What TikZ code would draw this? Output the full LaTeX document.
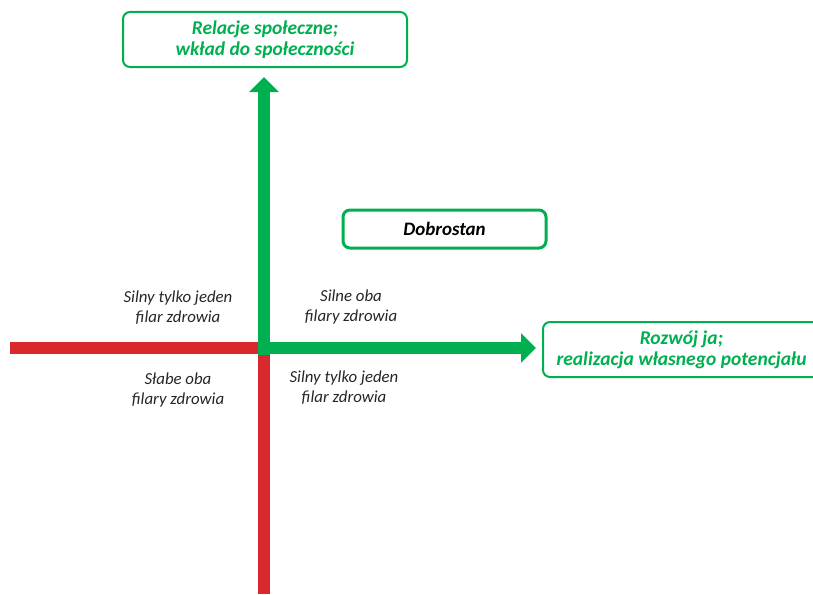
\documentclass[tikz,border=0pt]{standalone}
\usepackage{fontspec}
\setmainfont{Carlito}
\usetikzlibrary{arrows.meta}
\definecolor{axgreen}{RGB}{0,176,80}
\definecolor{axred}{RGB}{218,41,45}
\begin{document}
\begin{tikzpicture}[x=1pt,y=-1pt,
  goalbox/.style={draw=axgreen,line width=2pt,rounded corners=7pt,fill=white,
    text=axgreen,font=\fontsize{19.5}{22.5}\selectfont\bfseries\itshape,align=center,
    minimum height=55pt,inner sep=0pt},
  quadlabel/.style={font=\fontsize{16.8}{20}\selectfont\itshape,align=center,text=black!85},
  redaxis/.style={draw=axred,line width=12.5pt},
  greenaxis/.style={draw=axgreen,line width=12.5pt,-{Triangle[length=15pt,width=29pt]}}]
\useasboundingbox (0,0) rectangle (813,594);
\clip (0,0) rectangle (813,594);

% axes
\coordinate (o) at (264,348);
\coordinate (oleft) at (257.5,348);
\coordinate (odown) at (264,354.5);
\coordinate (westend) at (10,348);
\coordinate (southend) at (264,594);
\coordinate (northtip) at (264,77);
\coordinate (easttip) at (536,348);
\draw[redaxis] (westend) -- (oleft);
\draw[redaxis] (odown) -- (southend);
\draw[greenaxis] (odown) -- (northtip);
\draw[greenaxis] (oleft) -- (easttip);

% boxes
\node[goalbox,minimum width=284pt] (social) at (265,39.5)
  {\raisebox{-2pt}{\shortstack{Relacje społeczne;\\[1pt]wkład do społeczności}}};
\node[goalbox,minimum width=277pt] (growth) at (681.5,349.5)
  {\raisebox{-2pt}{\shortstack{Rozwój ja;\\[1pt]realizacja własnego potencjału}}};
\node[goalbox,minimum width=203pt,minimum height=38pt,line width=3pt,text=black,
  font=\fontsize{19}{22}\selectfont\bfseries\itshape]
  (wellbeing) at (444.5,229) {Dobrostan};

% quadrant labels
\node[quadlabel] (q2) at (178,308) {Silny tylko jeden\\filar zdrowia};
\node[quadlabel] (q1) at (351,307) {Silne oba\\filary zdrowia};
\node[quadlabel] (q3) at (178,390) {Słabe oba\\filary zdrowia};
\node[quadlabel] (q4) at (344,388) {Silny tylko jeden\\filar zdrowia};
\end{tikzpicture}
\end{document}
